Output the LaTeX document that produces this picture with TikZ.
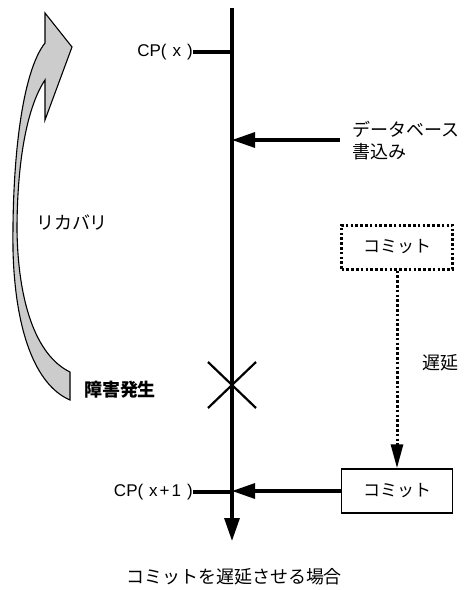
\documentclass[tikz,border=0pt]{standalone}
\usepackage{fontspec}
\setmainfont{Liberation Sans}
\newfontfamily\jp{Noto Sans CJK JP}
\usetikzlibrary{arrows.meta}
\begin{document}
\begin{tikzpicture}[x=1pt,y=-1pt,
  jtext/.style={font=\jp\fontsize{18}{22}\selectfont, inner sep=0pt},
  ltext/.style={font=\fontsize{17}{20}\selectfont, inner sep=0pt},
  thick line/.style={line width=3.2pt},
  dotline/.style={line width=3pt, dash pattern=on 2.6pt off 2.2pt},
  bigtip/.style={-{Triangle[length=23pt,width=15pt]}},
  box/.style={draw, line width=1.5pt, minimum width=111pt, minimum height=44pt, inner sep=0pt, font=\jp\fontsize{17}{21}\selectfont}]
\useasboundingbox (0,0) rectangle (466,590);
% timeline
\coordinate (top) at (232,8);
\coordinate (bot) at (232,541);
\draw[thick line, bigtip] (top) -- (bot);
% CP ticks
\coordinate (cpx) at (232,52);
\coordinate (cpx1) at (232,492);
\node[ltext, anchor=east] (cpxl) at (193,52) {CP(\hspace{6pt}x\hspace{6pt})};
\node[ltext, anchor=east] (cpx1l) at (193,492) {CP(\hspace{6pt}x\hspace{2pt}+\hspace{2pt}1\hspace{6pt})};
\draw[thick line] (cpxl.east) -- (cpx);
\draw[thick line] (cpx1l.east) -- (cpx1);
% database write
\coordinate (dbs) at (340,140);
\coordinate (dbe) at (232,140);
\draw[thick line, bigtip] (dbs) -- (dbe);
\node[jtext, anchor=west, align=left] (dbl) at (352,141) {データベース\\書込み};
% commit boxes
\node[box, dash pattern=on 2.6pt off 2.2pt, line width=3pt] (c1) at (397,247) {コミット};
\node[box] (c2) at (397,491) {コミット};
\draw[dotline, -{Triangle[length=24pt,width=12pt]}] (c1.south) -- (c2.north);
\node[jtext] (delay) at (440,363) {遅延};
\draw[thick line, bigtip] (c2.west) -- (232,491);
% failure X
\coordinate (xc) at (232,385);
\draw[line width=2.2pt] (208,362) -- (256,408) (208,408) -- (256,362);
\node[jtext, font=\jp\bfseries\fontsize{18}{22}\selectfont] (fail) at (120,390) {障害発生};
% recovery curved arrow
\draw[line width=1.1pt, fill=black!20, line join=miter]
  (70,400) .. controls (35,385) and (15,330) .. (13,250)
  .. controls (12,160) and (22,72) .. (45,43)
  -- (45,13) -- (72,47) -- (45,120) -- (45,80)
  .. controls (25,110) and (17,170) .. (17,230)
  .. controls (18,300) and (35,355) .. (70,372) -- cycle;
\node[jtext] (rec) at (72,222) {リカバリ};
% caption
\node[jtext] (cap) at (234,577) {コミットを遅延させる場合};
\end{tikzpicture}
\end{document}
